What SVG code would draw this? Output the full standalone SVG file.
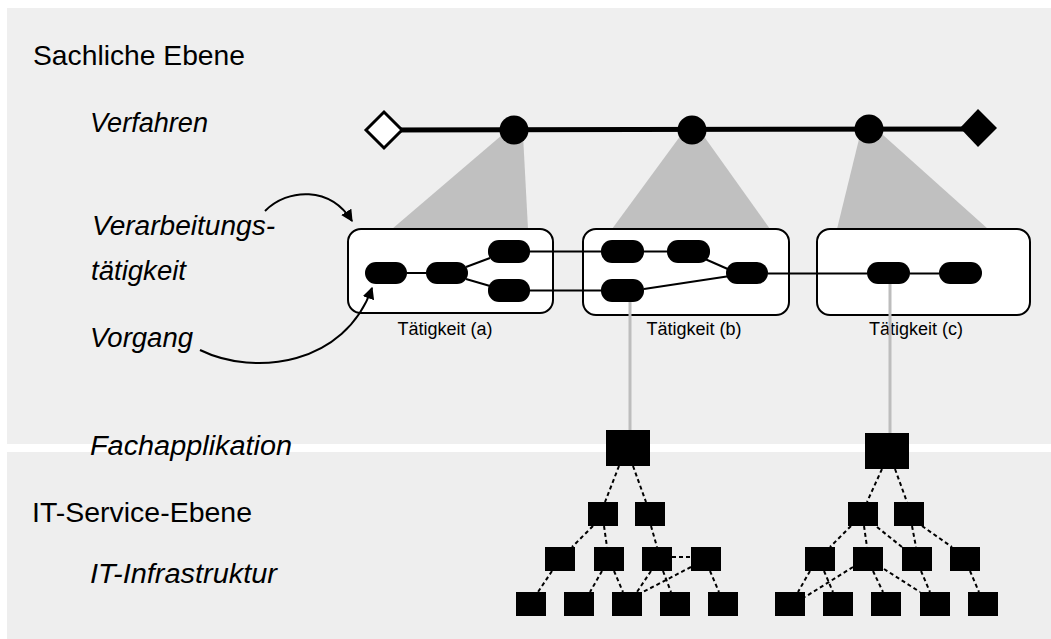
<svg xmlns="http://www.w3.org/2000/svg" width="1051" height="639" viewBox="0 0 1051 639">
<style>
.t{font-family:"Liberation Sans",Arial,sans-serif;fill:#000}
.big{font-size:28px}
.it{font-size:27px;font-style:italic}
.sm{font-size:18px}
.pill{fill:#000}
.box{fill:#fff;stroke:#000;stroke-width:2}
.sq{fill:#000}
.ln{stroke:#000;stroke-width:2;fill:none}
.ds{stroke:#000;stroke-width:2;stroke-dasharray:4 3;fill:none}
.gl{stroke:#bdbdbd;stroke-width:3}
.sh{fill:#c0c0c0}
</style>
<defs>
<marker id="ah" viewBox="0 0 10 10" refX="9" refY="5" markerWidth="6" markerHeight="6" orient="auto" markerUnits="strokeWidth">
<path d="M0,0 L10,5 L0,10 z" fill="#000"/>
</marker>
</defs>
<rect width="1051" height="639" fill="#fff"/>
<rect x="7" y="8" width="1044" height="436" fill="#efefef"/>
<rect x="7" y="452" width="1044" height="187" fill="#eeeeee"/>

<g id="labels">
<text class="t big" x="33" y="65" textLength="212" lengthAdjust="spacingAndGlyphs">Sachliche Ebene</text>
<text class="t it" x="90" y="132" textLength="118" lengthAdjust="spacingAndGlyphs">Verfahren</text>
<text class="t it" x="92" y="235" textLength="183" lengthAdjust="spacingAndGlyphs">Verarbeitungs-</text>
<text class="t it" x="91" y="280" textLength="95" lengthAdjust="spacingAndGlyphs">tätigkeit</text>
<text class="t it" x="90" y="347" textLength="103" lengthAdjust="spacingAndGlyphs">Vorgang</text>
<text class="t it" x="90" y="455" textLength="202" lengthAdjust="spacingAndGlyphs">Fachapplikation</text>
<text class="t big" x="32" y="522" textLength="220" lengthAdjust="spacingAndGlyphs">IT-Service-Ebene</text>
<text class="t it" x="90" y="583" textLength="187" lengthAdjust="spacingAndGlyphs">IT-Infrastruktur</text>
</g>

<g id="shades">
<polygon class="sh" points="502,135 523,135 528,229 392,229"/>
<polygon class="sh" points="681,135 703,135 770,229 612,229"/>
<polygon class="sh" points="860,135 883,135 988,229 837,229"/>
</g>

<g id="taetigkeit-a">
<rect class="box" x="348" y="229" width="205" height="84" rx="13"/>
<text class="t sm" x="445" y="335" text-anchor="middle">Tätigkeit (a)</text>
</g>
<g id="taetigkeit-b">
<rect class="box" x="583" y="229" width="206" height="86" rx="13"/>
<text class="t sm" x="694" y="335" text-anchor="middle">Tätigkeit (b)</text>
</g>
<g id="taetigkeit-c">
<rect class="box" x="817" y="229" width="213" height="86" rx="13"/>
<text class="t sm" x="916" y="335" text-anchor="middle">Tätigkeit (c)</text>
</g>

<g id="connectors">
<line x1="384" y1="130" x2="978" y2="129" stroke="#000" stroke-width="5"/>
<line class="gl" x1="630" y1="300" x2="630" y2="431"/>
<line class="gl" x1="890" y1="282" x2="890" y2="434"/>
<path class="ln" d="M265,211 C288,188 330,186 352,221" marker-end="url(#ah)"/>
<path class="ln" d="M200,350 C255,377 345,365 372,288" marker-end="url(#ah)"/>
<line class="ln" x1="407" y1="273" x2="426" y2="273"/>
<line class="ln" x1="466" y1="267" x2="490" y2="258"/>
<line class="ln" x1="466" y1="279" x2="490" y2="286"/>
<line class="ln" x1="530" y1="251.5" x2="601" y2="251.5"/>
<line class="ln" x1="530" y1="290.5" x2="601" y2="290.5"/>
<line class="ln" x1="644" y1="251.5" x2="667" y2="251.5"/>
<line class="ln" x1="705" y1="259" x2="730" y2="270"/>
<line class="ln" x1="644" y1="289" x2="730" y2="276"/>
<line class="ln" x1="768" y1="273.5" x2="867" y2="273.5"/>
<line class="ln" x1="910" y1="273.5" x2="939" y2="273.5"/>
<line class="ds" x1="619" y1="466" x2="605" y2="502"/>
<line class="ds" x1="633" y1="466" x2="646" y2="502"/>
<line class="ds" x1="593" y1="526" x2="572" y2="547"/>
<line class="ds" x1="604" y1="526" x2="607" y2="547"/>
<line class="ds" x1="651" y1="526" x2="657" y2="547"/>
<line class="ds" x1="672" y1="557" x2="691" y2="557"/>
<line class="ds" x1="552" y1="571" x2="538" y2="592"/>
<line class="ds" x1="602" y1="571" x2="590" y2="592"/>
<line class="ds" x1="614" y1="571" x2="623" y2="592"/>
<line class="ds" x1="651" y1="571" x2="637" y2="592"/>
<line class="ds" x1="691" y1="567" x2="643" y2="592"/>
<line class="ds" x1="663" y1="571" x2="671" y2="592"/>
<line class="ds" x1="710" y1="571" x2="719" y2="592"/>
<line class="ds" x1="882" y1="469" x2="867" y2="502"/>
<line class="ds" x1="895" y1="469" x2="907" y2="502"/>
<line class="ds" x1="851" y1="526" x2="830" y2="547"/>
<line class="ds" x1="864" y1="526" x2="867" y2="547"/>
<line class="ds" x1="877" y1="527" x2="902" y2="547"/>
<line class="ds" x1="912" y1="526" x2="916" y2="547"/>
<line class="ds" x1="922" y1="526" x2="952" y2="547"/>
<line class="ds" x1="810" y1="571" x2="798" y2="592"/>
<line class="ds" x1="824" y1="571" x2="833" y2="592"/>
<line class="ds" x1="853" y1="567" x2="805" y2="597"/>
<line class="ds" x1="873" y1="571" x2="883" y2="592"/>
<line class="ds" x1="884" y1="569" x2="920" y2="592"/>
<line class="ds" x1="921" y1="571" x2="930" y2="592"/>
<line class="ds" x1="970" y1="571" x2="979" y2="592"/>
</g>

<g id="verfahren">
<polygon points="366,130 384,112 402,130 384,148" fill="#fff" stroke="#000" stroke-width="3"/>
<circle cx="514" cy="130" r="14.5" fill="#000"/>
<circle cx="692" cy="130" r="14.5" fill="#000"/>
<circle cx="869" cy="129" r="14.5" fill="#000"/>
<polygon points="960,128 978,109 997,128 978,147" fill="#000"/>
</g>

<g id="vorgaenge">
<rect class="pill" x="365" y="262" width="42" height="22" rx="11"/>
<rect class="pill" x="426" y="262" width="42" height="22" rx="11"/>
<rect class="pill" x="488" y="240" width="42" height="23" rx="11"/>
<rect class="pill" x="488" y="279" width="42" height="23" rx="11"/>
<rect class="pill" x="601" y="240" width="43" height="23" rx="11"/>
<rect class="pill" x="667" y="240" width="43" height="23" rx="11"/>
<rect class="pill" x="601" y="279" width="43" height="23" rx="11"/>
<rect class="pill" x="726" y="262" width="42" height="22" rx="11"/>
<rect class="pill" x="867" y="262" width="43" height="22" rx="11"/>
<rect class="pill" x="939" y="262" width="43" height="22" rx="11"/>
</g>

<g id="fachapplikation-b"><rect class="sq" x="606" y="430" width="44" height="36"/></g>
<g id="fachapplikation-c"><rect class="sq" x="865" y="433" width="44" height="36"/></g>

<g id="infra-links">
<rect class="sq" x="588" y="502" width="30" height="24"/>
<rect class="sq" x="635" y="502" width="30" height="24"/>
<rect class="sq" x="545" y="547" width="30" height="24"/>
<rect class="sq" x="594" y="547" width="30" height="24"/>
<rect class="sq" x="642" y="547" width="30" height="24"/>
<rect class="sq" x="691" y="547" width="30" height="24"/>
<rect class="sq" x="516" y="592" width="30" height="24"/>
<rect class="sq" x="564" y="592" width="30" height="24"/>
<rect class="sq" x="612" y="592" width="30" height="24"/>
<rect class="sq" x="660" y="592" width="30" height="24"/>
<rect class="sq" x="708" y="592" width="30" height="24"/>
</g>
<g id="infra-rechts">
<rect class="sq" x="848" y="502" width="30" height="24"/>
<rect class="sq" x="894" y="502" width="30" height="24"/>
<rect class="sq" x="805" y="547" width="30" height="24"/>
<rect class="sq" x="853" y="547" width="30" height="24"/>
<rect class="sq" x="902" y="547" width="30" height="24"/>
<rect class="sq" x="950" y="547" width="30" height="24"/>
<rect class="sq" x="775" y="592" width="30" height="24"/>
<rect class="sq" x="823" y="592" width="30" height="24"/>
<rect class="sq" x="871" y="592" width="30" height="24"/>
<rect class="sq" x="920" y="592" width="30" height="24"/>
<rect class="sq" x="968" y="592" width="30" height="24"/>
</g>
</svg>
